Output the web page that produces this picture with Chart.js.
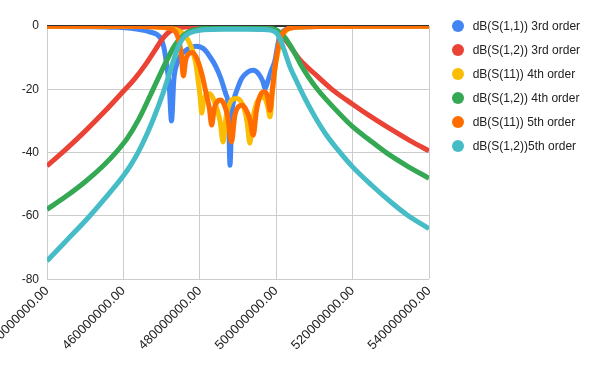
<!DOCTYPE html>
<html>
<head>
<meta charset="utf-8">
<script src="https://cdn.jsdelivr.net/npm/chart.js@4.4.1/dist/chart.umd.min.js"></script>
<style>
  html, body { margin: 0; padding: 0; background: #fff; }
  #wrap { position: relative; width: 600px; height: 371px; overflow: hidden; }
  #legend { position: absolute; left: 452px; top: 13.7px; font-family: "Liberation Sans", Arial, sans-serif; font-size: 12px; color: #222; }
  .item { display: flex; align-items: center; height: 24px; white-space: nowrap; }
  .dot { width: 12px; height: 12px; border-radius: 50%; flex: none; }
  .lbl { margin-left: 8.7px; }
</style>
</head>
<body>
<div id="wrap">
  <canvas id="c" width="600" height="371"></canvas>
  <div id="legend"></div>
</div>
<script>
// Frequencies in MHz, values in dB
const seriesLabels = [
  "dB(S(1,1)) 3rd order",
  "dB(S(1,2)) 3rd order",
  "dB(S(11)) 4th order",
  "dB(S(1,2)) 4th order",
  "dB(S(11)) 5th order",
  "dB(S(1,2))5th order"
];

const s11_3rd_f  = [440, 450, 458, 462, 465, 467, 468.7, 469.8, 470.6, 471.3, 472.0, 472.6, 473.2, 474.0, 475.2, 477.0, 479.0, 481.0, 482.7, 484.2, 485.5, 486.8, 487.5, 487.9, 488.4, 489.0, 489.7, 491.0, 492.5, 494.0, 495.5, 496.5, 497.1, 497.8, 498.6, 499.7, 500.4, 501.0, 502.0, 503.5, 506, 512, 525, 540];
const s11_3rd_db = [-0.1, -0.2, -0.4, -0.7, -1.3, -1.9, -2.6, -4.0, -6.8, -12, -19, -30, -17, -12, -9, -7.2, -6.4, -7.2, -9.8, -12.8, -16.5, -21.5, -26, -44, -28, -23, -20.3, -16.5, -14.6, -14, -15.3, -17.5, -19.7, -17.5, -14.5, -10.8, -6, -3, -1.5, -0.7, -0.3, -0.15, -0.1, -0.05];

const s12_3rd_f  = [440, 445, 450, 455, 460, 463, 466, 468.5, 470, 471.5, 473, 475, 478, 485, 492, 497, 499, 500.5, 501.5, 503, 504.4, 506.3, 510, 514.6, 520, 525, 530, 535, 540];
const s12_3rd_db = [-44.2, -38.9, -33.2, -27.1, -20.6, -16.6, -11.8, -7.2, -4.4, -2.3, -1.1, -0.5, -0.25, -0.2, -0.2, -0.4, -1.0, -2.0, -3.0, -5.3, -7.7, -10.8, -15.0, -20.0, -24.7, -28.8, -32.6, -36.2, -39.4];

const s11_4th_f  = [440, 460, 468, 471, 473, 474.5, 475.8, 477.0, 478.0, 478.9, 479.6, 480.1, 480.5, 481.0, 481.6, 482.3, 483.2, 484.3, 485.3, 486.1, 486.9, 487.8, 488.8, 489.7, 490.6, 491.6, 492.4, 493.1, 493.8, 494.7, 495.5, 496.3, 497.1, 497.8, 498.4, 499.0, 499.6, 500.4, 501.2, 502.2, 503.5, 506, 512, 525, 540];
const s11_4th_db = [-0.05, -0.1, -0.25, -0.5, -0.9, -1.5, -2.6, -4.6, -7.5, -11.5, -17.5, -22.5, -27.5, -23.5, -21.8, -21.3, -22.2, -25.5, -30, -36.6, -28.5, -24.5, -23, -22.9, -23.5, -26, -30.5, -37, -30, -25, -23, -22.4, -23, -25.5, -28.7, -21, -14, -8.5, -4.5, -2, -0.8, -0.35, -0.15, -0.1, -0.05];

const s12_4th_f  = [440, 445, 450, 455, 458, 461, 464, 467, 469.5, 471.5, 473.5, 475.5, 477.5, 480, 485, 492, 497, 499, 500.5, 502, 503.5, 505, 506.3, 508.5, 511, 515, 520, 524, 528.8, 534, 540];
const s12_4th_db = [-57.9, -53.8, -49.2, -43.8, -40.0, -35.5, -29.5, -22.0, -15.5, -10.5, -6.0, -3.2, -1.6, -0.9, -0.6, -0.6, -0.8, -0.9, -1.6, -3.2, -5.8, -8.9, -11.9, -16.2, -20.3, -25.7, -31.8, -35.6, -40.0, -44.0, -48.1];

const s11_5th_f  = [440, 460, 466, 470, 472, 473, 473.8, 474.5, 475.1, 475.7, 476.3, 477.0, 478.0, 479.3, 480.5, 481.6, 482.5, 483.1, 483.8, 484.6, 485.4, 486.3, 487.3, 488.3, 489.2, 490.1, 491.0, 492.0, 493.1, 494.0, 494.8, 495.8, 497.0, 497.8, 498.4, 499.0, 499.7, 500.4, 501.2, 502.2, 503.5, 506, 512, 525, 540];
const s11_5th_db = [-0.05, -0.1, -0.2, -0.4, -0.7, -1.1, -2.2, -4.5, -8.5, -15.8, -10.8, -8.9, -8.4, -10.5, -15, -21, -26, -31.3, -26, -23.8, -23.4, -24.6, -28.5, -36.6, -28, -25.5, -25, -26.2, -29.5, -34.5, -27, -22, -20.8, -22.5, -26.6, -20, -13, -7.5, -3.5, -1.5, -0.7, -0.3, -0.15, -0.1, -0.05];

const s12_5th_f  = [440, 445, 451.2, 455, 460, 462, 464, 466, 468, 470.5, 472, 473.3, 474.5, 475.7, 477, 478.5, 481, 486, 492, 496, 498.5, 499.5, 500.3, 501, 502, 503.6, 505, 506.5, 508.5, 510.6, 513, 516, 520, 525, 530, 534.2, 540];
const s12_5th_db = [-74.2, -67.9, -60.0, -54.7, -47.3, -43.8, -39.6, -34.6, -28.9, -20.8, -15.2, -10.2, -6.2, -3.7, -2.4, -1.7, -1.2, -1.0, -1.0, -1.1, -1.3, -1.7, -2.5, -4.0, -7.3, -12.9, -16.6, -20.4, -25.1, -29.6, -34.2, -38.9, -44.5, -50.3, -55.6, -59.6, -64.0];

const xTicksMHz = [440, 460, 480, 500, 520, 540];
const yTicks = [-80, -60, -40, -20, 0];

const seriesF  = [s11_3rd_f, s12_3rd_f, s11_4th_f, s12_4th_f, s11_5th_f, s12_5th_f];
const seriesDb = [s11_3rd_db, s12_3rd_db, s11_4th_db, s12_4th_db, s11_5th_db, s12_5th_db];
const colors = ["#4285F4", "#EA4335", "#FBBC04", "#34A853", "#FF6D01", "#46BDC6"];
const drawOrder = [5, 4, 3, 2, 1, 0];

const FONT = '"Liberation Sans", Arial, sans-serif';

const datasets = seriesLabels.map((lab, i) => ({
  label: lab,
  data: seriesF[i].map((f, j) => ({ x: f * 1e6, y: seriesDb[i][j] })),
  showLine: true,
  borderColor: colors[i],
  backgroundColor: colors[i],
  borderWidth: 5,
  pointRadius: 0,
  cubicInterpolationMode: 'monotone',
  clip: 0,
  order: drawOrder[i]
}));

const zeroLine = {
  id: 'zeroLine',
  afterDatasetsDraw(chart) {
    const { ctx, chartArea } = chart;
    const y = chart.scales.y.getPixelForValue(0);
    ctx.save();
    ctx.strokeStyle = '#333';
    ctx.lineWidth = 1;
    ctx.beginPath();
    ctx.moveTo(chartArea.left, Math.floor(y) - 0.5);
    ctx.lineTo(chartArea.right, Math.floor(y) - 0.5);
    ctx.stroke();
    ctx.restore();
  }
};

new Chart(document.getElementById('c'), {
  type: 'scatter',
  data: { datasets },
  plugins: [zeroLine],
  options: {
    responsive: false,
    animation: false,
    devicePixelRatio: 1,
    layout: { padding: { left: 0, right: 171, top: 26, bottom: 0 } },
    plugins: { legend: { display: false }, tooltip: { enabled: false } },
    scales: {
      x: {
        type: 'linear',
        min: xTicksMHz[0] * 1e6,
        max: xTicksMHz[xTicksMHz.length - 1] * 1e6,
        afterBuildTicks: s => { s.ticks = xTicksMHz.map(v => ({ value: v * 1e6 })); },
        ticks: {
          autoSkip: false, minRotation: 45, maxRotation: 45, padding: 4,
          color: '#222', font: { family: FONT, size: 13 },
          callback: v => Number(v).toFixed(2)
        },
        grid: { color: '#ccc', drawTicks: false },
        border: { display: false },
        afterFit: s => { s.height = 91.7; s.paddingLeft = 0; s.paddingRight = 0; }
      },
      y: {
        min: yTicks[0], max: yTicks[yTicks.length - 1],
        afterBuildTicks: s => { s.ticks = yTicks.map(v => ({ value: v })); },
        ticks: { padding: 8, color: '#222', font: { family: FONT, size: 12 } },
        grid: { color: ctx => (ctx.tick && ctx.tick.value === 0) ? '#333' : '#ccc', drawTicks: false },
        border: { display: false },
        afterFit: s => { s.width = 47; }
      }
    }
  }
});

const leg = document.getElementById('legend');
seriesLabels.forEach((lab, i) => {
  const it = document.createElement('div');
  it.className = 'item';
  const d = document.createElement('span');
  d.className = 'dot';
  d.style.background = colors[i];
  const t = document.createElement('span');
  t.className = 'lbl';
  t.textContent = lab;
  it.appendChild(d); it.appendChild(t);
  leg.appendChild(it);
});
</script>
</body>
</html>
